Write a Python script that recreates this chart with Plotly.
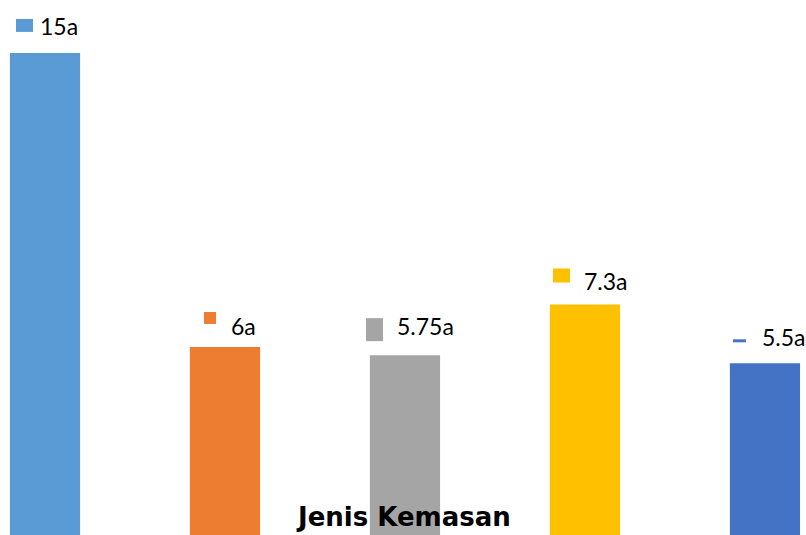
import plotly.graph_objects as go

categories = ["A", "B", "C", "D", "E"]
values = [15, 6, 5.75, 7.3, 5.5]
labels = ["15a", "6a", "5.75a", "7.3a", "5.5a"]
colors = ["#5B9BD5", "#ED7D31", "#A5A5A5", "#FFC000", "#4472C4"]

# label key boxes (pixel offsets from bar top centre): x0, x1, y0, y1
key_boxes = [(-29, -12, 21, 34), (-21, -9, 23, 35), (-39, -22, 14, 37),
             (-32, -15, 22, 36), (-32, -19, 21, 24)]
# text offsets (left x shift, y shift of middle)
text_offs = [(-7, 27), (4, 21), (-10, 29), (-3, 24), (-5, 26)]

fig = go.Figure()
fig.add_trace(go.Bar(x=categories, y=values, marker=dict(color=colors, line=dict(width=0)),
                     width=0.39, showlegend=False, hoverinfo="skip"))

for i, c in enumerate(categories):
    x0, x1, y0, y1 = key_boxes[i]
    fig.add_shape(type="rect", xref="x", yref="y", xsizemode="pixel", ysizemode="pixel",
                  xanchor=c, yanchor=values[i], x0=x0, x1=x1, y0=y0, y1=y1,
                  fillcolor=colors[i], line=dict(width=0))
    tx, ty = text_offs[i]
    fig.add_annotation(x=c, y=values[i], text=labels[i], showarrow=False,
                       xanchor="left", yanchor="middle", xshift=tx, yshift=ty,
                       font=dict(family="Lato", size=23, color="#000000"))

fig.add_annotation(x=0.501, y=0.034, xref="paper", yref="paper", text="<b>Jenis Kemasan</b>",
                   showarrow=False, xanchor="center", yanchor="middle",
                   font=dict(family="DejaVu Sans", size=26, color="#000000"))

fig.update_layout(
    width=806, height=535, margin=dict(l=0, r=0, t=0, b=0),
    paper_bgcolor="white", plot_bgcolor="white",
    xaxis=dict(range=[-0.25, 4.228], showticklabels=False, showgrid=False, zeroline=False,
               showline=False, ticks=""),
    yaxis=dict(range=[0.245, 16.62], showticklabels=False, showgrid=False, zeroline=False,
               showline=False, ticks=""),
)
fig.write_html("out.html")
